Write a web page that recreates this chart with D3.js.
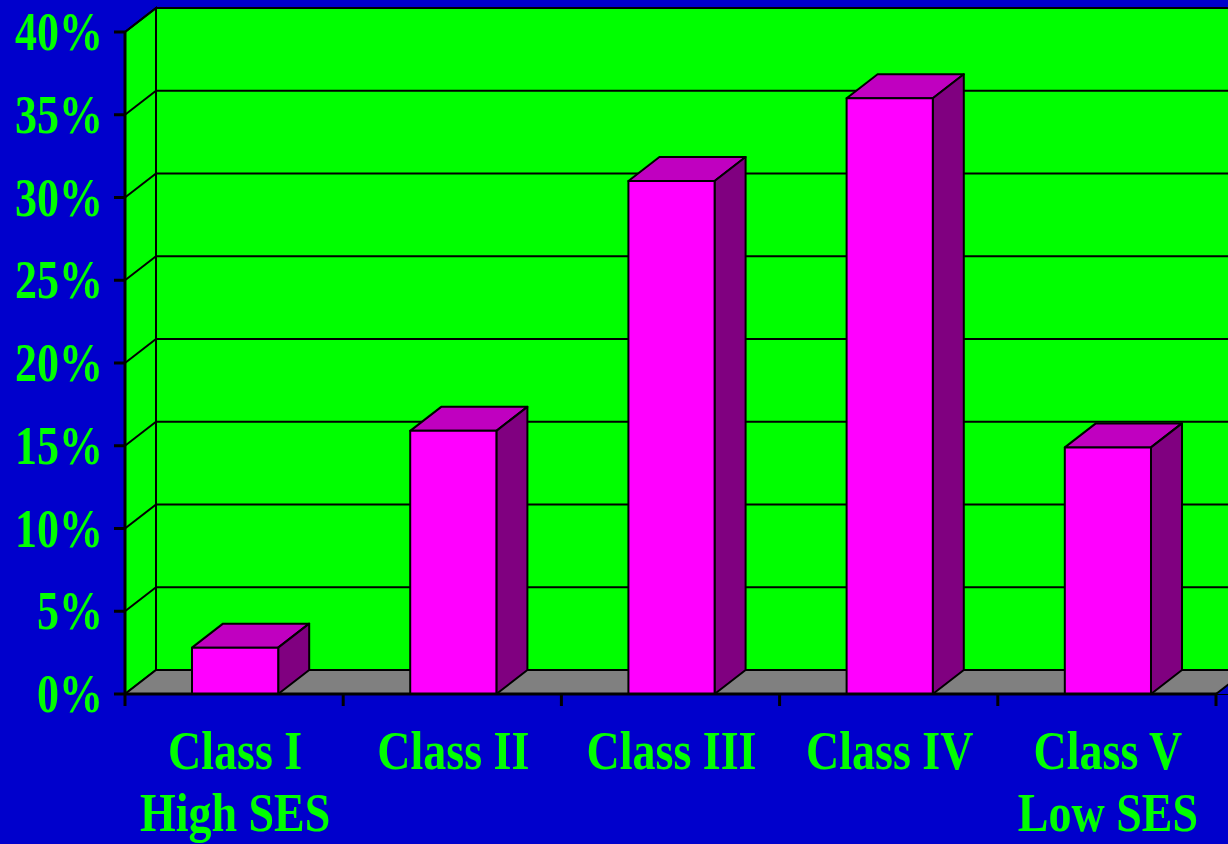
<!DOCTYPE html>
<html>
<head>
<meta charset="utf-8">
<script src="https://cdn.jsdelivr.net/npm/d3@7"></script>
<style>
  html, body { margin: 0; padding: 0; background: #0000CC; }
  svg { display: block; }
</style>
</head>
<body>
<div id="chart"></div>
<script>
// Data
const categories = ["Class I", "Class II", "Class III", "Class IV", "Class V"];
const subLabels = ["High SES", "", "", "", "Low SES"];
const values = [2.8, 15.9, 31, 36, 14.9];
const yTicks = [0, 5, 10, 15, 20, 25, 30, 35, 40];

// Layout
const W = 1228, H = 844;
const plotLeft = 125, plotRight = 1216, plotBottom = 694, plotTop = 32;
const depthX = 31, depthY = -24;

const svg = d3.select("#chart")
    .append("svg")
    .attr("width", W)
    .attr("height", H);

svg.append("rect")
    .attr("width", W).attr("height", H)
    .attr("fill", "#0000CC");

// Scales
const x = d3.scaleBand()
    .domain(categories)
    .range([plotLeft, plotRight]);

const y = d3.scaleLinear()
    .domain([0, 40])
    .range([plotBottom, plotTop]);

const green = "#00FF00";
const pts = arr => arr.map(p => p.join(",")).join(" ");

// Back wall
svg.append("rect")
    .attr("x", plotLeft + depthX)
    .attr("y", plotTop + depthY)
    .attr("width", plotRight - plotLeft + 40)
    .attr("height", plotBottom - plotTop)
    .attr("fill", green)
    .attr("stroke", "#000")
    .attr("stroke-width", 2);

// Left side wall
svg.append("polygon")
    .attr("points", pts([
        [plotLeft, plotTop], [plotLeft + depthX, plotTop + depthY],
        [plotLeft + depthX, plotBottom + depthY], [plotLeft, plotBottom]
    ]))
    .attr("fill", green)
    .attr("stroke", "#000")
    .attr("stroke-width", 2);

// Floor
svg.append("polygon")
    .attr("points", pts([
        [plotLeft, plotBottom], [plotLeft + depthX, plotBottom + depthY],
        [plotRight + depthX + 40, plotBottom + depthY], [plotRight + 40, plotBottom]
    ]))
    .attr("fill", "#808080")
    .attr("stroke", "#000")
    .attr("stroke-width", 2);

// Blue corner to the right of the floor
svg.append("polygon")
    .attr("points", pts([
        [plotRight, plotBottom], [plotRight + depthX, plotBottom + depthY],
        [W + 10, plotBottom + depthY], [W + 10, plotBottom]
    ]))
    .attr("fill", "#0000CC");
svg.append("line")
    .attr("x1", plotRight).attr("y1", plotBottom)
    .attr("x2", plotRight + depthX).attr("y2", plotBottom + depthY)
    .attr("stroke", "#000").attr("stroke-width", 2);

// Gridlines
const grid = svg.append("g").attr("stroke", "#000").attr("stroke-width", 2);
yTicks.filter(d => d > 0).forEach(d => {
    grid.append("line")
        .attr("x1", plotLeft + depthX).attr("x2", W + 10)
        .attr("y1", y(d) + depthY).attr("y2", y(d) + depthY);
    grid.append("line")
        .attr("x1", plotLeft).attr("x2", plotLeft + depthX)
        .attr("y1", y(d)).attr("y2", y(d) + depthY);
});

// Bars
const barW = x.bandwidth() * 0.395;
const cx = d => x(d.c) + x.bandwidth() / 2 + 1;

const bars = svg.selectAll(".bar")
    .data(categories.map((c, i) => ({c, v: values[i]})))
    .enter()
    .append("g")
    .attr("class", "bar")
    .attr("stroke", "#000")
    .attr("stroke-width", 2)
    .attr("stroke-linejoin", "round");

// top face
bars.append("polygon")
    .attr("points", d => {
        const x0 = cx(d) - barW / 2, x1 = cx(d) + barW / 2, yt = y(d.v);
        return pts([[x0, yt], [x0 + depthX, yt + depthY], [x1 + depthX, yt + depthY], [x1, yt]]);
    })
    .attr("fill", "#C000C0");

// side face
bars.append("polygon")
    .attr("points", d => {
        const x1 = cx(d) + barW / 2, yt = y(d.v);
        return pts([[x1, yt], [x1 + depthX, yt + depthY], [x1 + depthX, plotBottom + depthY], [x1, plotBottom]]);
    })
    .attr("fill", "#800080");

// front face
bars.append("rect")
    .attr("x", d => cx(d) - barW / 2)
    .attr("y", d => y(d.v))
    .attr("width", barW)
    .attr("height", d => plotBottom - y(d.v))
    .attr("fill", "#FF00FF");

// Axis lines
const axisG = svg.append("g").attr("stroke", "#000").attr("stroke-width", 3);
axisG.append("line")
    .attr("x1", plotLeft).attr("x2", plotLeft)
    .attr("y1", plotTop - 1).attr("y2", plotBottom + 1);
axisG.append("line")
    .attr("x1", plotLeft - 1).attr("x2", plotRight + 1)
    .attr("y1", plotBottom).attr("y2", plotBottom);

// Y ticks
yTicks.forEach(d => {
    axisG.append("line")
        .attr("x1", plotLeft - 11).attr("x2", plotLeft)
        .attr("y1", y(d)).attr("y2", y(d));
});

// X ticks (category boundaries)
categories.map(c => x(c)).concat([plotRight]).forEach(b => {
    axisG.append("line")
        .attr("x1", b).attr("x2", b)
        .attr("y1", plotBottom).attr("y2", plotBottom + 12);
});

// Y labels
const font = "'Liberation Serif', 'Times New Roman', serif";
svg.selectAll(".ylab")
    .data(yTicks)
    .enter()
    .append("text")
    .attr("class", "ylab")
    .attr("transform", d => `translate(103,${y(d) + 18}) scale(1,1.24)`)
    .attr("text-anchor", "end")
    .attr("font-family", font)
    .attr("font-weight", "bold")
    .attr("font-size", 44)
    .attr("fill", green)
    .text(d => d + "%");

// Category labels
categories.forEach((c, i) => {
    const xc = x(c) + x.bandwidth() / 2 + 1;
    svg.append("text")
        .attr("transform", `translate(${xc},769) scale(1,1.2)`)
        .attr("text-anchor", "middle")
        .attr("font-family", font)
        .attr("font-weight", "bold")
        .attr("font-size", 46)
        .attr("fill", green)
        .text(c);
    if (subLabels[i]) {
        svg.append("text")
            .attr("transform", `translate(${xc},831) scale(1,1.2)`)
            .attr("text-anchor", "middle")
            .attr("font-family", font)
            .attr("font-weight", "bold")
            .attr("font-size", 46)
            .attr("fill", green)
            .text(subLabels[i]);
    }
});
</script>
</body>
</html>
